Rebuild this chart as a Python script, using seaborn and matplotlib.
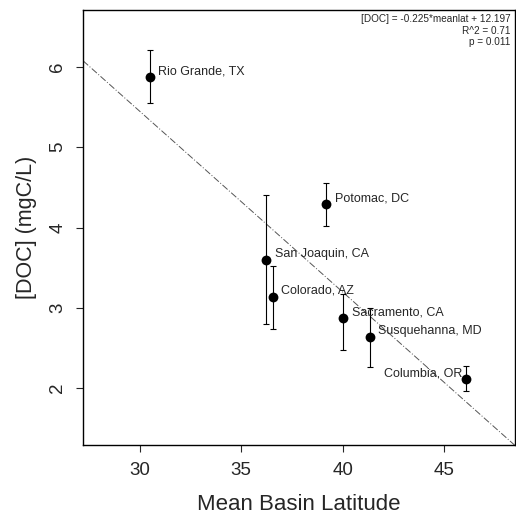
import matplotlib
matplotlib.use("Agg")
import matplotlib.pyplot as plt
import seaborn as sns
import pandas as pd

# River basin data
rivers = ["Rio Grande, TX", "Potomac, DC", "San Joaquin, CA", "Colorado, AZ",
          "Sacramento, CA", "Susquehanna, MD", "Columbia, OR"]
latitude = [30.5, 39.2, 36.24, 36.57, 40.03, 41.33, 46.1]
doc = [5.88, 4.29, 3.60, 3.14, 2.87, 2.64, 2.11]
doc_low = [5.55, 4.02, 2.80, 2.74, 2.47, 2.26, 1.96]
doc_high = [6.21, 4.56, 4.40, 3.52, 3.17, 3.00, 2.27]

# fit reported on the chart
slope = -0.225
intercept = 12.197
fit_text = "[DOC] = -0.225*meanlat + 12.197\nR^2 = 0.71\np = 0.011"

data = pd.DataFrame({"river": rivers, "lat": latitude, "doc": doc,
                     "low": doc_low, "high": doc_high})

sns.set_style("ticks")
plt.rcParams["font.family"] = ["Liberation Sans", "DejaVu Sans"]

fig = plt.figure(figsize=(5.16, 5.16), dpi=100)
ax = fig.add_axes([0.161, 0.1376, 0.837, 0.843])

# regression line
ax.axline((0, intercept), slope=slope, color="#555555", lw=0.7,
          linestyle=(0, (7, 2, 1, 2)), zorder=1)

# error bars
ax.errorbar(data["lat"], data["doc"],
            yerr=[data["doc"] - data["low"], data["high"] - data["doc"]],
            fmt="none", ecolor="black", elinewidth=0.8, capsize=2.5,
            capthick=0.8, zorder=2)

sns.scatterplot(data=data, x="lat", y="doc", color="black", s=50,
                edgecolor="black", linewidth=0, zorder=3, ax=ax)

for _, r in data.iterrows():
    if r["river"].startswith("Columbia"):
        ax.annotate(r["river"], (r["lat"], r["doc"]), xytext=(-3, 4),
                    textcoords="offset points", ha="right", va="center",
                    fontsize=9)
    else:
        ax.annotate(r["river"], (r["lat"], r["doc"]), xytext=(6, 4),
                    textcoords="offset points", ha="left", va="center",
                    fontsize=9)

ax.text(0.99, 0.99, fit_text, transform=ax.transAxes, ha="right", va="top",
        fontsize=7.2, linespacing=1.15)

ax.set_xlim(27.2, 48.5)
ax.set_ylim(1.29, 6.71)
ax.set_xticks([30, 35, 40, 45])
ax.set_yticks([2, 3, 4, 5, 6])
ax.tick_params(axis="both", labelsize=13.5, length=5, width=0.8, pad=7)
for lab in ax.get_yticklabels():
    lab.set_rotation(90)
    lab.set_va("center")

ax.set_xlabel("Mean Basin Latitude", fontsize=16, labelpad=11)
ax.set_ylabel("[DOC] (mgC/L)", fontsize=15.5, labelpad=9)

for s in ax.spines.values():
    s.set_linewidth(1.0)
    s.set_color("black")

fig.savefig("out.png", dpi=100)
